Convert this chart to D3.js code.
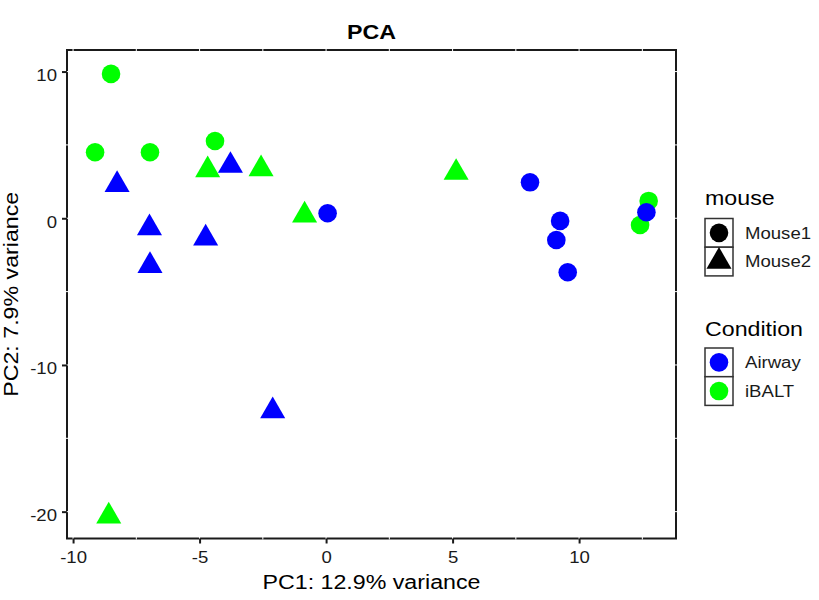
<!DOCTYPE html>
<html><head><meta charset="utf-8">
<script src="https://cdn.jsdelivr.net/npm/d3@7"></script>
<style>body{margin:0;background:#fff}svg{display:block}text{font-family:"Liberation Sans",Arial,sans-serif}</style>
</head><body>
<script>
// ---- data ----
const pc1 = [-8.50, -9.13, -6.96, -4.39, 12.75, 12.41, -4.68, -2.57, -0.85, 5.14, -8.59, 0.06, 8.06, 9.25, 9.10, 9.55, 12.66, -8.26, -3.78, -6.98, -4.76, -6.96, -2.11];
const pc2 = [9.84, 4.50, 4.50, 5.27, 1.18, -0.46, 3.29, 3.36, 0.20, 3.11, -20.31, 0.34, 2.45, -0.18, -1.48, -3.68, 0.41, 2.29, 3.59, -0.66, -1.36, -3.23, -13.14];
const condition = ["iBALT","iBALT","iBALT","iBALT","iBALT","iBALT","iBALT","iBALT","iBALT","iBALT","iBALT","Airway","Airway","Airway","Airway","Airway","Airway","Airway","Airway","Airway","Airway","Airway","Airway"];
const mouse = ["Mouse1","Mouse1","Mouse1","Mouse1","Mouse1","Mouse1","Mouse2","Mouse2","Mouse2","Mouse2","Mouse2","Mouse1","Mouse1","Mouse1","Mouse1","Mouse1","Mouse1","Mouse2","Mouse2","Mouse2","Mouse2","Mouse2","Mouse2"];
const xTicks = [-10, -5, 0, 5, 10];
const yTicks = [10, 0, -10, -20];
const xGrid = [-10, -7.5, -5, -2.5, 0, 2.5, 5, 7.5, 10, 12.5];
const yGrid = [10, 5, 0, -5, -10, -15, -20];
const mouseLevels = ["Mouse1", "Mouse2"];
const condLevels = ["Airway", "iBALT"];
const condColors = ["#0000FF", "#00FF00"];
const title = "PCA", xLabel = "PC1: 12.9% variance", yLabel = "PC2: 7.9% variance";

// ---- layout ----
const W = 819, H = 600, STRETCH = 1.16;
const P = {l: 67, r: 676, t: 50, b: 538.5};
const svg = d3.select("body").append("svg").attr("width", W).attr("height", H);
const x = d3.scaleLinear().domain([-10.24, 13.83]).range([P.l, P.r]);
const y = d3.scaleLinear().domain([-21.83, 11.47]).range([P.b, P.t]);
const color = d3.scaleOrdinal().domain(condLevels).range(condColors);
const R = 9.3;
function tri(r){ const a=1.555*r, b=1.347*r, c=0.778*r; return `M0,${-a}L${b},${c}L${-b},${c}Z`; }
const shape = d3.scaleOrdinal().domain(mouseLevels).range(["circle","triangle"]);
function drawMark(g, s, fill){
  if (s === "circle") g.append("circle").attr("r", R).attr("fill", fill);
  else g.append("path").attr("d", tri(R)).attr("fill", fill);
}
function stretch(sel){ sel.each(function(){ const l=this.getComputedTextLength(); d3.select(this).attr("textLength", l*STRETCH).attr("lengthAdjust","spacingAndGlyphs"); }); return sel; }
const fmt = d => String(d);

// panel border
svg.append("rect").attr("x", P.l).attr("y", P.t).attr("width", P.r-P.l).attr("height", P.b-P.t)
  .attr("fill", "#fff").attr("stroke", "#1a1a1a").attr("stroke-width", 2);
// white grid lines (overlap the border)
svg.append("g").selectAll("line").data(xGrid).join("line")
  .attr("x1", d=>x(d)).attr("x2", d=>x(d)).attr("y1", P.t-1).attr("y2", P.b+1)
  .attr("stroke", "#fff").attr("stroke-width", 1);
svg.append("g").selectAll("line").data(yGrid).join("line")
  .attr("y1", d=>y(d)).attr("y2", d=>y(d)).attr("x1", P.l-1).attr("x2", P.r+1)
  .attr("stroke", "#fff").attr("stroke-width", 1);

// axes
const xAxis = svg.append("g").attr("transform", `translate(0,${P.b})`)
  .call(d3.axisBottom(x).tickValues(xTicks).tickSize(5).tickPadding(7).tickFormat(fmt));
const yAxis = svg.append("g").attr("transform", `translate(${P.l},0)`)
  .call(d3.axisLeft(y).tickValues(yTicks).tickSize(5).tickPadding(5).tickFormat(fmt));
[xAxis, yAxis].forEach(a => {
  a.select(".domain").remove();
  a.selectAll(".tick line").attr("stroke", "#1a1a1a").attr("stroke-width", 2);
  a.selectAll(".tick text").attr("fill", "#1a1a1a").style("font-size", "16px");
});
xAxis.selectAll(".tick text").attr("dy", null).attr("y", 24);
yAxis.selectAll(".tick text").attr("dy", "0.55em").attr("x", -10);
stretch(xAxis.selectAll(".tick text")); stretch(yAxis.selectAll(".tick text"));

// points
const pts = svg.append("g");
pc1.forEach((v, i) => {
  const g = pts.append("g").attr("transform", `translate(${x(v)},${y(pc2[i])})`);
  drawMark(g, shape(mouse[i]), color(condition[i]));
});

// titles
stretch(svg.append("text").attr("x", (P.l+P.r)/2).attr("y", 39.3).attr("text-anchor","middle")
  .style("font-size","20px").style("font-weight","bold").text(title));
stretch(svg.append("text").attr("x", (P.l+P.r)/2).attr("y", 589).attr("text-anchor","middle")
  .style("font-size","20px").attr("fill","#000").text(xLabel));
stretch(svg.append("text").attr("transform", `translate(17.5,${(P.t+P.b)/2}) rotate(-90)`).attr("text-anchor","middle")
  .style("font-size","20px").text(yLabel));

// legends
function legend(titleText, ty, keyTop, levels, keyFn){
  stretch(svg.append("text").attr("x", 705).attr("y", ty).style("font-size","20px").text(titleText));
  const kh = 28.7;
  levels.forEach((lv, i) => {
    const top = keyTop + i*kh;
    svg.append("rect").attr("x", 705).attr("y", top).attr("width", 28).attr("height", kh)
      .attr("fill","#fff").attr("stroke","#333").attr("stroke-width",1.5);
    const g = svg.append("g").attr("transform", `translate(719,${top+kh/2})`);
    keyFn(g, lv);
    stretch(svg.append("text").attr("x", 745).attr("y", top+kh/2).attr("dy","0.36em")
      .style("font-size","16px").attr("fill","#1a1a1a").text(lv));
  });
}
legend("mouse", 205, 218.5, mouseLevels, (g, lv) => drawMark(g, shape(lv), "#000"));
legend("Condition", 336, 348, condLevels, (g, lv) => drawMark(g, "circle", color(lv)));
</script>
</body></html>
